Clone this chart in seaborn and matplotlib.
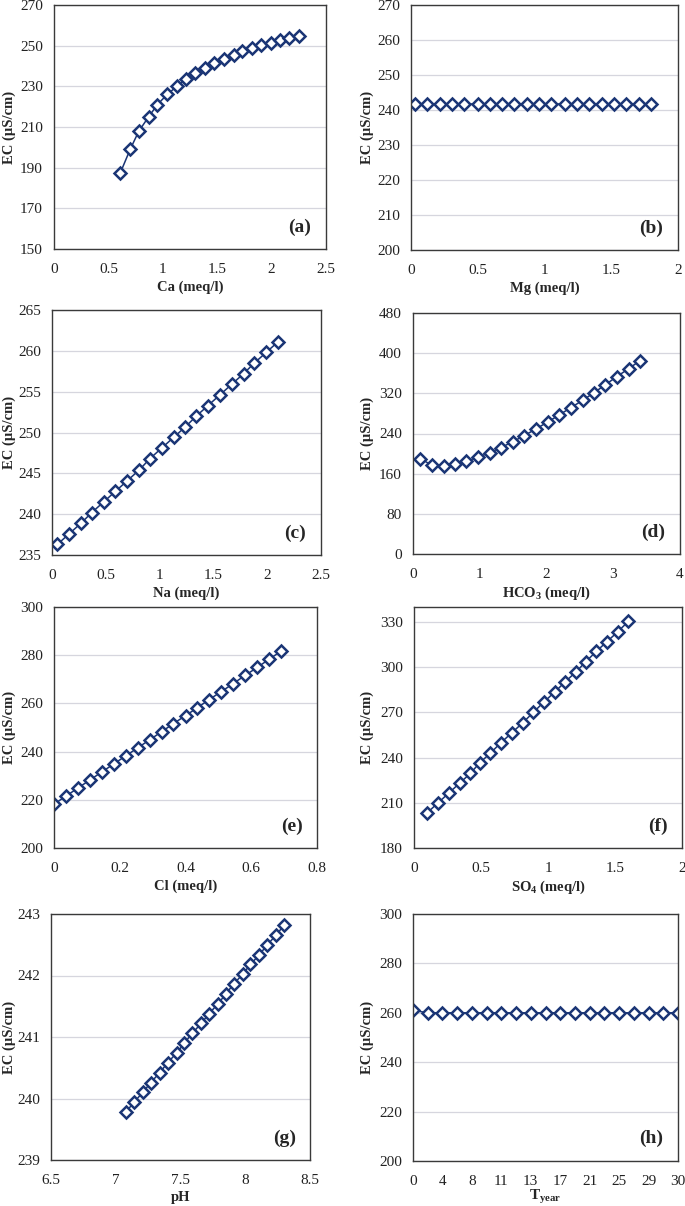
import numpy as np
import pandas as pd
import matplotlib
matplotlib.use("Agg")
import matplotlib.pyplot as plt
from matplotlib.ticker import FuncFormatter
import seaborn as sns

# values
ca_x = [0.61, 0.70, 0.78, 0.87, 0.95, 1.04, 1.13, 1.21, 1.30, 1.39,
        1.47, 1.56, 1.65, 1.73, 1.82, 1.90, 1.99, 2.08, 2.16, 2.25]
ca_ec = [187.5, 199, 208, 215, 221, 226, 230, 233.5, 236.5, 239,
         241.5, 243.5, 245.5, 247.2, 249, 250.3, 251.5, 252.6, 253.6, 254.6]

mg_x = [0.03, 0.12, 0.22, 0.31, 0.40, 0.50, 0.59, 0.68, 0.77, 0.87,
        0.96, 1.05, 1.15, 1.24, 1.33, 1.43, 1.52, 1.61, 1.71, 1.80]
mg_ec = [241.7] * 20

na_x = [0.05, 0.16, 0.27, 0.37, 0.48, 0.59, 0.70, 0.81, 0.91, 1.02,
        1.13, 1.24, 1.34, 1.45, 1.56, 1.67, 1.78, 1.88, 1.99, 2.10]
na_ec = [236.3, 237.6, 238.9, 240.2, 241.5, 242.8, 244.1, 245.4, 246.8, 248.1,
         249.4, 250.7, 252.0, 253.3, 254.6, 255.9, 257.2, 258.5, 259.8, 261.1]

hco3_x = [0.11, 0.28, 0.46, 0.63, 0.80, 0.98, 1.15, 1.32, 1.50, 1.67,
          1.84, 2.02, 2.19, 2.36, 2.54, 2.71, 2.88, 3.05, 3.23, 3.40]
hco3_ec = [190, 177, 175, 179, 185, 193, 202, 212, 224, 236,
           249, 263, 277, 291, 306, 321, 337, 353, 369, 385]

cl_x = [0.0, 0.036, 0.073, 0.109, 0.145, 0.182, 0.218, 0.254, 0.291, 0.327,
        0.363, 0.400, 0.436, 0.472, 0.509, 0.545, 0.581, 0.618, 0.654, 0.690]
cl_ec = [218.2, 221.5, 224.9, 228.2, 231.5, 234.9, 238.2, 241.5, 244.9, 248.2,
         251.6, 254.9, 258.2, 261.6, 264.9, 268.2, 271.6, 274.9, 278.3, 281.6]

so4_x = [0.10, 0.18, 0.26, 0.34, 0.42, 0.49, 0.57, 0.65, 0.73, 0.81,
         0.89, 0.97, 1.05, 1.13, 1.21, 1.28, 1.36, 1.44, 1.52, 1.60]
so4_ec = [203.5, 210, 216.5, 223, 229.5, 236.5, 243, 250, 256.5, 263,
          270, 277, 283.5, 290.5, 297, 303.5, 310.5, 317, 323.5, 330.5]

ph_x = [7.08, 7.14, 7.21, 7.27, 7.34, 7.40, 7.47, 7.53, 7.59, 7.66,
        7.72, 7.79, 7.85, 7.91, 7.98, 8.04, 8.11, 8.17, 8.24, 8.30]
ph_ec = [239.78, 239.94, 240.10, 240.26, 240.42, 240.58, 240.74, 240.90, 241.06, 241.22,
         241.38, 241.54, 241.70, 241.86, 242.02, 242.18, 242.34, 242.50, 242.66, 242.82]

year_labels = ["0", "2", "4", "6", "8", "10", "11", "12", "13", "15",
               "17", "19", "21", "23", "25", "27", "29", "29", "30"]
year_ec = [261, 260, 260, 260, 260, 260, 260, 260, 260, 260,
           260, 260, 260, 260, 260, 260, 260, 260, 260]

sns.set_theme(style="white")
plt.rcParams["font.family"] = ["Liberation Serif", "DejaVu Serif"]
plt.rcParams["mathtext.fontset"] = "custom"
plt.rcParams["mathtext.rm"] = "Liberation Serif"
plt.rcParams["mathtext.bf"] = "Liberation Serif:bold"

navy = "#1a3575"
W, H = 685, 1206
fig = plt.figure(figsize=(W / 100, H / 100), dpi=100)

# (label, x, y, xlim, xstep, ylim, ystep, ytop_tick, xlabel, box in px: left, top, right, bottom)
panels = [
    ("(a)", ca_x, ca_ec, (0, 2.5), 0.5, (150, 270), 20, 270, "Ca (meq/l)", (54, 5, 326, 249)),
    ("(b)", mg_x, mg_ec, (0, 2), 0.5, (200, 270), 10, 270, "Mg (meq/l)", (411, 5, 678, 250)),
    ("(c)", na_x, na_ec, (0, 2.5), 0.5, (235, 265), 5, 265, "Na (meq/l)", (52, 310, 321, 555)),
    ("(d)", hco3_x, hco3_ec, (0, 4), 1, (0, 480), 80, 480, r"HCO$_\mathbf{3}$ (meq/l)", (413, 313, 680, 554)),
    ("(e)", cl_x, cl_ec, (0, 0.8), 0.2, (200, 300), 20, 300, "Cl (meq/l)", (54, 607, 317, 848)),
    ("(f)", so4_x, so4_ec, (0, 2), 0.5, (180, 340), 30, 330, r"SO$_\mathbf{4}$ (meq/l)", (414, 607, 682, 848)),
    ("(g)", ph_x, ph_ec, (6.5, 8.5), 0.5, (239, 243), 1, 243, "pH", (51, 914, 310, 1160)),
]

fmt = FuncFormatter(lambda v, p: f"{v:g}")


def style_axes(ax, tag, left):
    for s in ax.spines.values():
        s.set_color("#3a3a3a")
        s.set_linewidth(1.0)
    ax.yaxis.grid(True, color="#d6d6de", lw=0.9)
    ax.set_axisbelow(True)
    ax.tick_params(axis="both", direction="out", length=4, width=0.9,
                   color="#3a3a3a", labelsize=11, labelcolor="#222222")
    ax.tick_params(axis="x", pad=6)
    ax.tick_params(axis="y", pad=4)
    ax.set_ylabel("EC (µS/cm)", fontsize=10.5, fontweight="bold")
    # fixed label column, in figure pixels
    lx = 9 if left < 200 else 367
    ax.yaxis.set_label_coords(lx / W, 0.5, transform=fig.transFigure)
    ax.yaxis.label.set_va("center")
    ax.text(0.945, 0.09, tag, transform=ax.transAxes, ha="right", va="center",
            fontsize=14, fontweight="bold")


def make_ax(box):
    l, t, r, b = box
    return fig.add_axes([l / W, 1 - b / H, (r - l) / W, (b - t) / H])


for tag, xs, ys, xlim, xstep, ylim, ystep, ytop, xlabel, box in panels:
    ax = make_ax(box)
    df = pd.DataFrame({"x": xs, "ec": ys})
    sns.lineplot(data=df, x="x", y="ec", ax=ax, color=navy, lw=1.1,
                 marker="D", markersize=6, markerfacecolor="white",
                 markeredgecolor=navy, markeredgewidth=1.8, sort=False)
    ax.set_xlim(*xlim)
    ax.set_ylim(*ylim)
    ax.set_xticks(np.arange(xlim[0], xlim[1] + xstep / 2, xstep))
    ax.set_yticks(np.arange(ylim[0], ytop + ystep / 2, ystep))
    ax.xaxis.set_major_formatter(fmt)
    ax.yaxis.set_major_formatter(fmt)
    ax.set_xlabel(xlabel, fontsize=10.5, fontweight="bold", labelpad=3)
    style_axes(ax, tag, box[0])
    # y label coords use the axes' y position; recenter on the axes
    ax.yaxis.set_label_coords((9 if box[0] < 200 else 367) / W,
                              1 - (box[1] + box[3]) / 2 / H, transform=fig.transFigure)

# (h) category axis for years
hbox = (413, 914, 678, 1161)
ax = make_ax(hbox)
pos = list(range(len(year_labels)))
dfh = pd.DataFrame({"pos": pos, "ec": year_ec})
sns.lineplot(data=dfh, x="pos", y="ec", ax=ax, color=navy, lw=1.1,
             marker="D", markersize=6, markerfacecolor="white",
             markeredgecolor=navy, markeredgewidth=1.8)
ax.set_xlim(0, len(year_labels) - 1)
ax.set_ylim(200, 300)
ax.set_xticks(pos[::2])
ax.set_xticklabels(year_labels[::2])
ax.set_yticks(np.arange(200, 301, 20))
style_axes(ax, "(h)", hbox[0])
ax.yaxis.set_label_coords(367 / W, 1 - (hbox[1] + hbox[3]) / 2 / H, transform=fig.transFigure)
ax.set_xlabel(r"$\mathbf{T}_{\mathbf{year}}$", fontsize=11, labelpad=0)

fig.savefig("out.png", dpi=100, facecolor="white")
